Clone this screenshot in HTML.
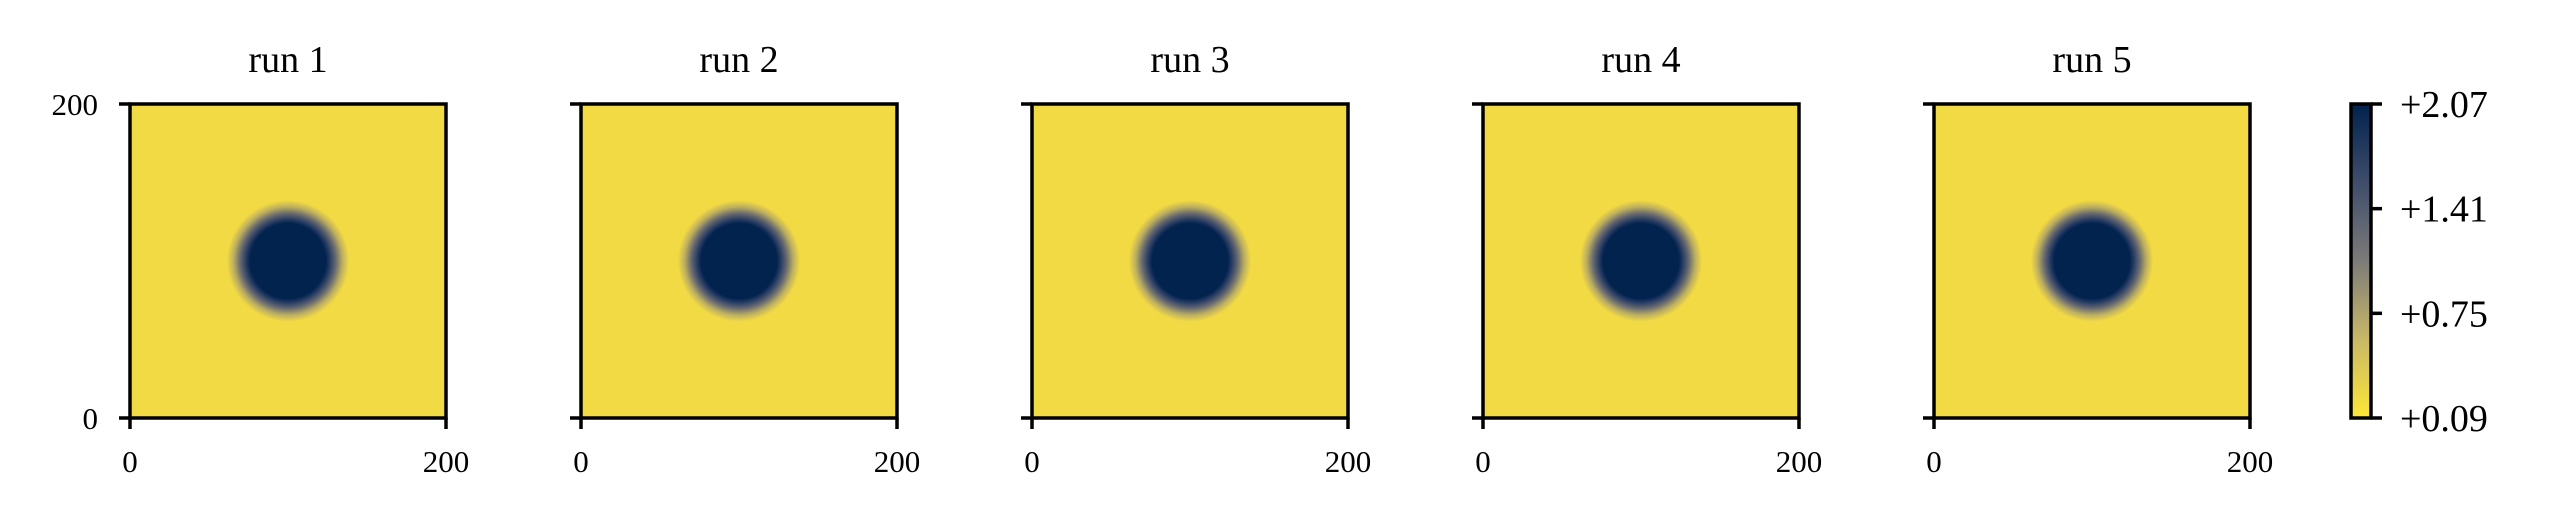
<!DOCTYPE html>
<html><head><meta charset="utf-8"><style>
html,body{margin:0;padding:0;background:#fff;}
svg{display:block;}
text{font-family:"Liberation Serif",serif;fill:#000;}
</style></head><body>
<svg id="fig" width="2554" height="519" viewBox="0 0 2554 519" xmlns="http://www.w3.org/2000/svg">
<defs>
<linearGradient id="cbar" x1="0" y1="1" x2="0" y2="0">
<stop offset="0" stop-color="#fde737"/>
<stop offset="0.25" stop-color="#c9b867"/>
<stop offset="0.5" stop-color="#7c7b78"/>
<stop offset="0.75" stop-color="#3f4d6b"/>
<stop offset="1" stop-color="#00224e"/>
</linearGradient>
<radialGradient id="blob">
<stop offset="0" stop-color="#02234e"/>
<stop offset="0.62" stop-color="#02234e"/>
<stop offset="0.68" stop-color="#243a62"/>
<stop offset="0.78" stop-color="#66686f"/>
<stop offset="0.89" stop-color="#bcae60"/>
<stop offset="1" stop-color="#f2da44"/>
</radialGradient>
</defs>
<g id="panels"></g>
<g id="colorbar"></g>
</svg>
<script>
const runs = ["run 1","run 2","run 3","run 4","run 5"];
const centerX = [100,100,100,100,100];
const centerY = [100,100,100,100,100];
const radiusData = [24,24,24,24,24];
const axisTicks = [0,200];
const cbarTicks = [0.09,0.75,1.41,2.07];
const cbarLabels = ["+0.09","+0.75","+1.41","+2.07"];
const cbarMin = 0.09, cbarMax = 2.07;

const NS="http://www.w3.org/2000/svg";
function mk(tag, attrs, parent){const e=document.createElementNS(NS,tag);for(const k in attrs)e.setAttribute(k,attrs[k]);parent.appendChild(e);return e;}
const panels=document.getElementById('panels');
const W=316,H=314,top0=104,left0=130,step=451;
runs.forEach((r,i)=>{
  const L=left0+i*step;
  const sx=v=>L+v/200*W;
  const sy=v=>top0+H-v/200*H;
  const g=mk('g',{},panels);
  
  
  const bg=mk('rect',{x:L,y:top0,width:W,height:H,fill:'#f2da44'},g);
  
  
  const c=mk('ellipse',{cx:sx(centerX[i]),cy:sy(centerY[i]),rx:radiusData[i]/200*W/0.62,ry:radiusData[i]/200*H/0.62,fill:'url(#blob)'},g);
  
  
  const fr=mk('rect',{x:L,y:top0,width:W,height:H,fill:'none',stroke:'#000','stroke-width':3.5},g);
  
  
  const t=mk('text',{x:L+W/2,y:72,'font-size':38,'text-anchor':'middle'},g);
  t.textContent=r;
  
  
  axisTicks.forEach(v=>{
    mk('line',{x1:sx(v),y1:top0+H,x2:sx(v),y2:top0+H+11,stroke:'#000','stroke-width':3.5},g);
    mk('line',{x1:L-11,y1:sy(v),x2:L,y2:sy(v),stroke:'#000','stroke-width':3.5},g);
    const xt=mk('text',{x:sx(v),y:472,'font-size':31,'text-anchor':'middle'},g);
    xt.textContent=v;
    
    
    if(i===0){
      const yt=mk('text',{x:L-32,y:sy(v)+11,'font-size':31,'text-anchor':'end'},g);
      yt.textContent=v;
      
      
    }
  });
});
const cb=document.getElementById('colorbar');
const cx=2351,cw=20,ct=104,ch=314;
const cy=v=>ct+ch-(v-cbarMin)/(cbarMax-cbarMin)*ch;
const cr=mk('rect',{x:cx,y:ct,width:cw,height:ch,fill:'url(#cbar)',stroke:'#000','stroke-width':3.5},cb);


cbarTicks.forEach((v,k)=>{
  mk('line',{x1:cx+cw,y1:cy(v),x2:cx+cw+11,y2:cy(v),stroke:'#000','stroke-width':3.5},cb);
  const t=mk('text',{x:2400,y:cy(v)+13,'font-size':38},cb);
  t.textContent=cbarLabels[k];
  
  
});
</script>
</body></html>
